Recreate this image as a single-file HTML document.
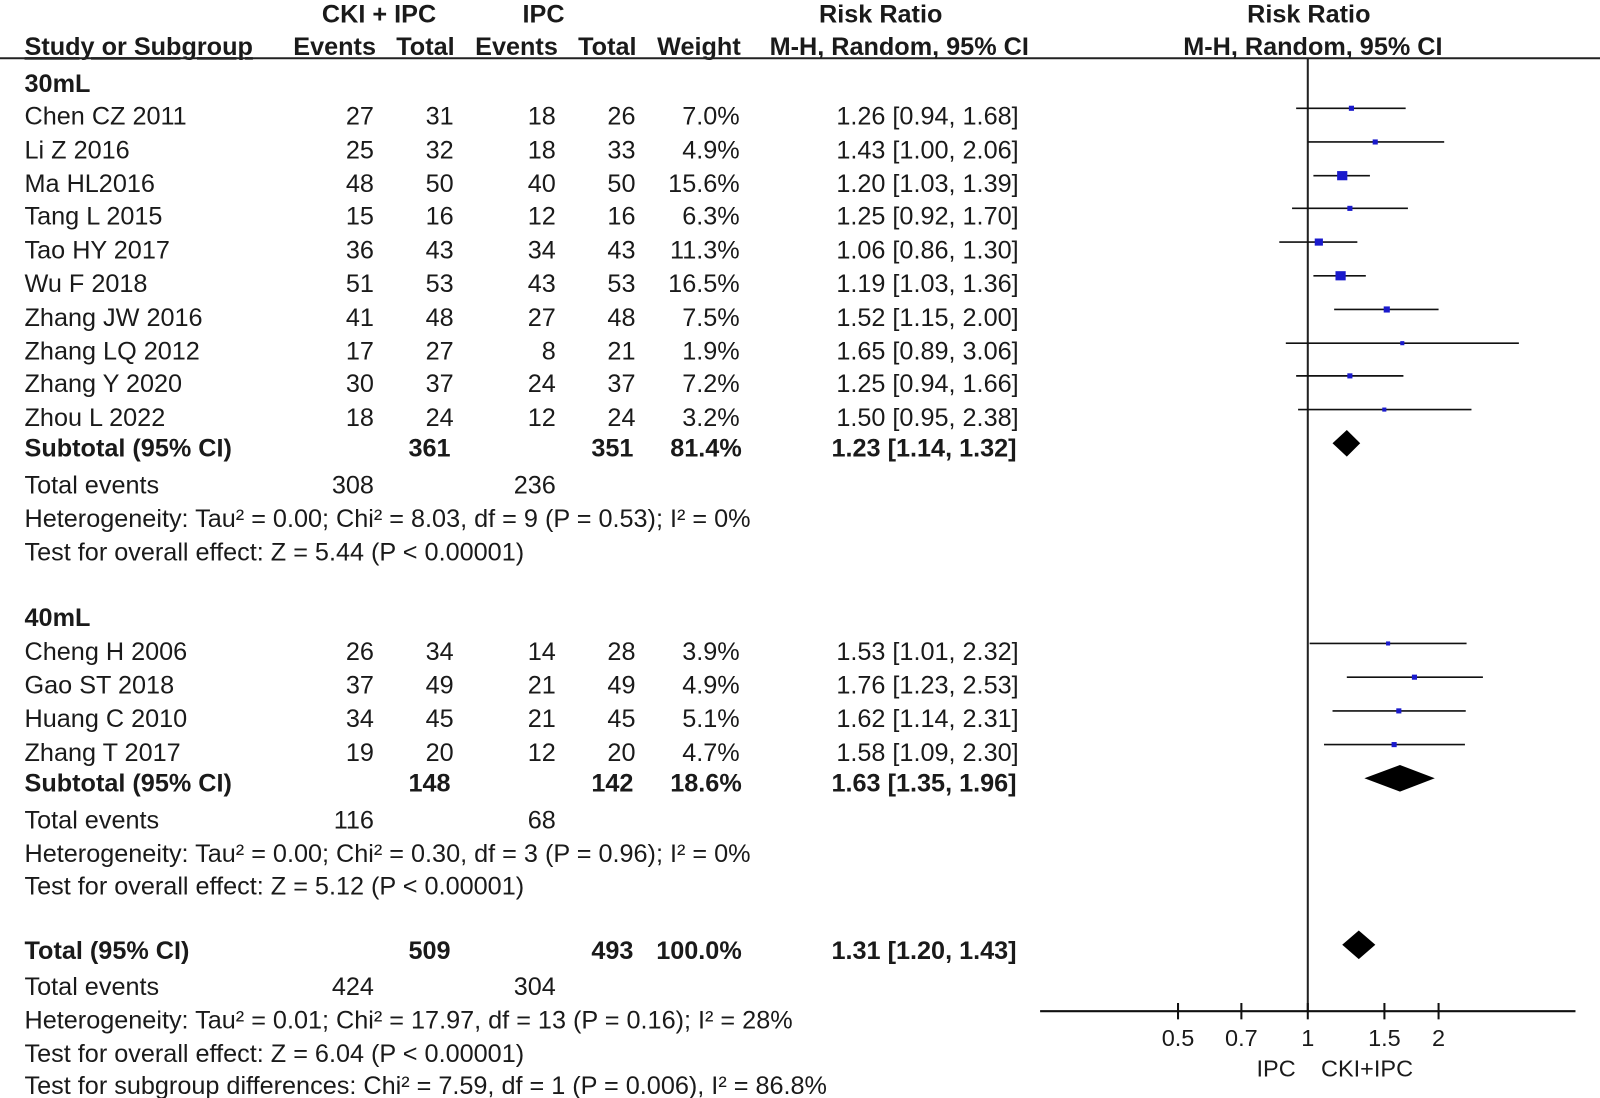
<!DOCTYPE html>
<html><head><meta charset="utf-8"><style>
html,body{margin:0;padding:0;background:#fff}
svg{display:block}
text{font-family:"Liberation Sans",Arial,sans-serif;font-size:24.7px;fill:#1a1a1a}
.b{font-weight:bold}
.r{text-anchor:end}
.m{text-anchor:middle}
.ax{font-size:23px}
</style></head><body>
<svg width="1600" height="1098" viewBox="0 0 1566 1075" preserveAspectRatio="none" xmlns="http://www.w3.org/2000/svg">
<text class="b m" x="371" y="22">CKI + IPC</text>
<text class="b m" x="532" y="22">IPC</text>
<text class="b m" x="862" y="22">Risk Ratio</text>
<text class="b m" x="1281" y="22">Risk Ratio</text>
<text class="b" x="24" y="54" text-decoration="underline">Study or Subgroup</text>
<text class="b r" x="368" y="54">Events</text>
<text class="b r" x="445" y="54">Total</text>
<text class="b r" x="546" y="54">Events</text>
<text class="b r" x="623" y="54">Total</text>
<text class="b r" x="725" y="54">Weight</text>
<text class="b r" x="1007" y="54">M-H, Random, 95% CI</text>
<text class="b m" x="1285" y="54">M-H, Random, 95% CI</text>
<line x1="0" y1="57" x2="1566" y2="57" stroke="#222" stroke-width="2"/>
<line x1="1280" y1="57" x2="1280" y2="990" stroke="#222" stroke-width="2"/>

<text class="b" x="24" y="90">30mL</text>
<text x="24" y="122">Chen CZ 2011</text><text class="r" x="366" y="122">27</text><text class="r" x="444" y="122">31</text><text class="r" x="544" y="122">18</text><text class="r" x="622" y="122">26</text><text class="r" x="724" y="122">7.0%</text><text class="r" x="997" y="122">1.26 [0.94, 1.68]</text>
<text x="24" y="155">Li Z 2016</text><text class="r" x="366" y="155">25</text><text class="r" x="444" y="155">32</text><text class="r" x="544" y="155">18</text><text class="r" x="622" y="155">33</text><text class="r" x="724" y="155">4.9%</text><text class="r" x="997" y="155">1.43 [1.00, 2.06]</text>
<text x="24" y="188">Ma HL2016</text><text class="r" x="366" y="188">48</text><text class="r" x="444" y="188">50</text><text class="r" x="544" y="188">40</text><text class="r" x="622" y="188">50</text><text class="r" x="724" y="188">15.6%</text><text class="r" x="997" y="188">1.20 [1.03, 1.39]</text>
<text x="24" y="220">Tang L 2015</text><text class="r" x="366" y="220">15</text><text class="r" x="444" y="220">16</text><text class="r" x="544" y="220">12</text><text class="r" x="622" y="220">16</text><text class="r" x="724" y="220">6.3%</text><text class="r" x="997" y="220">1.25 [0.92, 1.70]</text>
<text x="24" y="253">Tao HY 2017</text><text class="r" x="366" y="253">36</text><text class="r" x="444" y="253">43</text><text class="r" x="544" y="253">34</text><text class="r" x="622" y="253">43</text><text class="r" x="724" y="253">11.3%</text><text class="r" x="997" y="253">1.06 [0.86, 1.30]</text>
<text x="24" y="286">Wu F 2018</text><text class="r" x="366" y="286">51</text><text class="r" x="444" y="286">53</text><text class="r" x="544" y="286">43</text><text class="r" x="622" y="286">53</text><text class="r" x="724" y="286">16.5%</text><text class="r" x="997" y="286">1.19 [1.03, 1.36]</text>
<text x="24" y="319">Zhang JW 2016</text><text class="r" x="366" y="319">41</text><text class="r" x="444" y="319">48</text><text class="r" x="544" y="319">27</text><text class="r" x="622" y="319">48</text><text class="r" x="724" y="319">7.5%</text><text class="r" x="997" y="319">1.52 [1.15, 2.00]</text>
<text x="24" y="352">Zhang LQ 2012</text><text class="r" x="366" y="352">17</text><text class="r" x="444" y="352">27</text><text class="r" x="544" y="352">8</text><text class="r" x="622" y="352">21</text><text class="r" x="724" y="352">1.9%</text><text class="r" x="997" y="352">1.65 [0.89, 3.06]</text>
<text x="24" y="384">Zhang Y 2020</text><text class="r" x="366" y="384">30</text><text class="r" x="444" y="384">37</text><text class="r" x="544" y="384">24</text><text class="r" x="622" y="384">37</text><text class="r" x="724" y="384">7.2%</text><text class="r" x="997" y="384">1.25 [0.94, 1.66]</text>
<text x="24" y="417">Zhou L 2022</text><text class="r" x="366" y="417">18</text><text class="r" x="444" y="417">24</text><text class="r" x="544" y="417">12</text><text class="r" x="622" y="417">24</text><text class="r" x="724" y="417">3.2%</text><text class="r" x="997" y="417">1.50 [0.95, 2.38]</text>
<text class="b" x="24" y="447">Subtotal (95% CI)</text><text class="b r" x="441" y="447">361</text><text class="b r" x="620" y="447">351</text><text class="b r" x="726" y="447">81.4%</text><text class="b r" x="995" y="447">1.23 [1.14, 1.32]</text>
<text x="24" y="483">Total events</text><text class="r" x="366" y="483">308</text><text class="r" x="544" y="483">236</text>
<text x="24" y="516">Heterogeneity: Tau² = 0.00; Chi² = 8.03, df = 9 (P = 0.53); I² = 0%</text>
<text x="24" y="549">Test for overall effect: Z = 5.44 (P &lt; 0.00001)</text>

<text class="b" x="24" y="613">40mL</text>
<text x="24" y="646">Cheng H 2006</text><text class="r" x="366" y="646">26</text><text class="r" x="444" y="646">34</text><text class="r" x="544" y="646">14</text><text class="r" x="622" y="646">28</text><text class="r" x="724" y="646">3.9%</text><text class="r" x="997" y="646">1.53 [1.01, 2.32]</text>
<text x="24" y="679">Gao ST 2018</text><text class="r" x="366" y="679">37</text><text class="r" x="444" y="679">49</text><text class="r" x="544" y="679">21</text><text class="r" x="622" y="679">49</text><text class="r" x="724" y="679">4.9%</text><text class="r" x="997" y="679">1.76 [1.23, 2.53]</text>
<text x="24" y="712">Huang C 2010</text><text class="r" x="366" y="712">34</text><text class="r" x="444" y="712">45</text><text class="r" x="544" y="712">21</text><text class="r" x="622" y="712">45</text><text class="r" x="724" y="712">5.1%</text><text class="r" x="997" y="712">1.62 [1.14, 2.31]</text>
<text x="24" y="745">Zhang T 2017</text><text class="r" x="366" y="745">19</text><text class="r" x="444" y="745">20</text><text class="r" x="544" y="745">12</text><text class="r" x="622" y="745">20</text><text class="r" x="724" y="745">4.7%</text><text class="r" x="997" y="745">1.58 [1.09, 2.30]</text>
<text class="b" x="24" y="775">Subtotal (95% CI)</text><text class="b r" x="441" y="775">148</text><text class="b r" x="620" y="775">142</text><text class="b r" x="726" y="775">18.6%</text><text class="b r" x="995" y="775">1.63 [1.35, 1.96]</text>
<text x="24" y="811">Total events</text><text class="r" x="366" y="811">116</text><text class="r" x="544" y="811">68</text>
<text x="24" y="844">Heterogeneity: Tau² = 0.00; Chi² = 0.30, df = 3 (P = 0.96); I² = 0%</text>
<text x="24" y="876">Test for overall effect: Z = 5.12 (P &lt; 0.00001)</text>

<text class="b" x="24" y="939">Total (95% CI)</text><text class="b r" x="441" y="939">509</text><text class="b r" x="620" y="939">493</text><text class="b r" x="726" y="939">100.0%</text><text class="b r" x="995" y="939">1.31 [1.20, 1.43]</text>
<text x="24" y="974">Total events</text><text class="r" x="366" y="974">424</text><text class="r" x="544" y="974">304</text>
<text x="24" y="1007">Heterogeneity: Tau² = 0.01; Chi² = 17.97, df = 13 (P = 0.16); I² = 28%</text>
<text x="24" y="1040">Test for overall effect: Z = 6.04 (P &lt; 0.00001)</text>
<text x="24" y="1071">Test for subgroup differences: Chi² = 7.59, df = 1 (P = 0.006), I² = 86.8%</text>

<g stroke="#111" stroke-width="1.6">
<line x1="1268.6" y1="106" x2="1375.8" y2="106"/>
<line x1="1280" y1="139" x2="1413.5" y2="139"/>
<line x1="1285.5" y1="172" x2="1340.8" y2="172"/>
<line x1="1264.6" y1="204" x2="1378" y2="204"/>
<line x1="1252.1" y1="237" x2="1328.5" y2="237"/>
<line x1="1285.5" y1="270" x2="1336.8" y2="270"/>
<line x1="1305.8" y1="303" x2="1408" y2="303"/>
<line x1="1258.5" y1="336" x2="1486.6" y2="336"/>
<line x1="1268.6" y1="368" x2="1373.6" y2="368"/>
<line x1="1270.5" y1="401" x2="1440.2" y2="401"/>
<line x1="1281.8" y1="630" x2="1435.4" y2="630"/>
<line x1="1318.2" y1="663" x2="1451.4" y2="663"/>
<line x1="1304.2" y1="696" x2="1434.6" y2="696"/>
<line x1="1295.9" y1="729" x2="1433.8" y2="729"/>
</g>
<g fill="#1a1acc">
<rect x="1320.2" y="103.5" width="5" height="5"/>
<rect x="1343.5" y="136.5" width="5" height="5"/>
<rect x="1308.7" y="167.5" width="10" height="9"/>
<rect x="1318.7" y="201.5" width="5" height="5"/>
<rect x="1286.8" y="233.5" width="8" height="7"/>
<rect x="1307.1" y="265.5" width="10" height="9"/>
<rect x="1354.3" y="300" width="6" height="6"/>
<rect x="1370.5" y="334" width="4" height="4"/>
<rect x="1318.7" y="365.5" width="5" height="5"/>
<rect x="1352.9" y="399" width="4" height="4"/>
<rect x="1356.6" y="628" width="4" height="4"/>
<rect x="1381.9" y="660.5" width="5" height="5"/>
<rect x="1366.6" y="693.5" width="5" height="5"/>
<rect x="1362" y="726.5" width="5" height="5"/>
</g>
<g fill="#000">
<polygon points="1304.2,434 1318.2,421 1331.3,434 1318.2,447"/>
<polygon points="1335.4,762 1370.2,749 1404.3,762 1370.2,775"/>
<polygon points="1313.7,925 1329.9,911 1346.1,925 1329.9,939"/>
</g>
<g stroke="#111" stroke-width="2">
<line x1="1018" y1="990" x2="1542" y2="990"/>
<line x1="1153" y1="982" x2="1153" y2="998"/>
<line x1="1215" y1="982" x2="1215" y2="998"/>
<line x1="1280" y1="982" x2="1280" y2="998"/>
<line x1="1355" y1="982" x2="1355" y2="998"/>
<line x1="1408" y1="982" x2="1408" y2="998"/>
</g>
<text class="m ax" x="1153" y="1024">0.5</text>
<text class="m ax" x="1215" y="1024">0.7</text>
<text class="m ax" x="1280" y="1024">1</text>
<text class="m ax" x="1355" y="1024">1.5</text>
<text class="m ax" x="1408" y="1024">2</text>
<text class="m ax" x="1249" y="1054">IPC</text>
<text class="m ax" x="1338" y="1054">CKI+IPC</text>
</svg>
</body></html>
